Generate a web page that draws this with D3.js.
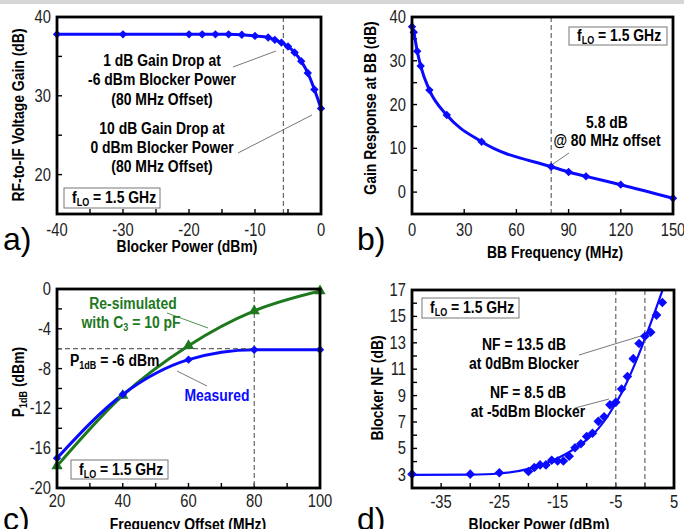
<!DOCTYPE html>
<head>
<meta charset="utf-8">
<script src="https://d3js.org/d3.v7.min.js"></script>
<style>
  body { margin: 0; background: #fff; }
  text { font-family: "Liberation Sans", Arial, sans-serif; }
</style>
</head>
<body>
<div id="vis"></div>
<script>
// a) RF-to-IF gain vs blocker power
const aPower = [-40, -30, -20, -18, -16, -14, -12, -10, -8, -7, -6, -5, -4, -3, -2, -1, 0];
const aGain  = [37.8, 37.8, 37.8, 37.8, 37.8, 37.8, 37.75, 37.6, 37.4, 37.1, 36.75, 36.25, 35.5, 34.4, 32.9, 30.8, 28.4];

// b) gain response at baseband
const bFreq = [0, 1, 3, 5, 10, 20, 40, 80, 90, 100, 120, 150];
const bGain = [37.8, 36.5, 32.2, 28.8, 23.3, 17.6, 11.5, 5.8, 4.6, 3.6, 1.7, -1.4];

// c) P1dB vs frequency offset
const cOffset   = [20, 40, 60, 80, 100];
const cMeasured = [-17.0, -10.6, -7.1, -6.1, -6.1];
const cResim    = [-17.8, -10.7, -5.7, -2.2, -0.2];

// d) blocker NF
const dPower = [-40, -30, -25, -20, -19, -18, -17, -16, -15, -14, -13, -12, -11, -10, -9, -8, -7, -6, -5, -4, -3, -2, -1, 0, 1, 2, 3];
const dNF    = [3.05, 3.05, 3.15, 3.25, 3.55, 3.75, 3.75, 4.1, 4.05, 4.05, 4.4, 5.05, 5.35, 5.9, 6.15, 7.05, 7.4, 8.3, 8.5, 9.5, 10.45, 11.8, 12.95, 13.5, 13.8, 15.1, 16.05];
const dFitPower = [-40, -30, -25, -20, -15, -10, -8, -6, -4, -2, 0, 2, 4];
const dFitNF    = [3.0, 3.02, 3.1, 3.45, 4.25, 5.65, 6.5, 7.7, 9.2, 11.1, 13.3, 15.7, 18.2];

const blue = "#0a0aff";
const green = "#1e781e";
const NARROW = 0.82;   // no Arial Narrow here, squeeze instead

const svg = d3.select("#vis").append("svg")
  .attr("width", 684).attr("height", 529);

svg.append("rect").attr("width", 684).attr("height", 4).attr("fill", "#d6d6d6");

// narrow-looking text
function T(g, x, y, size, anchor, bold, fill, rot) {
  return g.append("text")
    .attr("transform", `translate(${x},${y})${rot ? " rotate(-90)" : ""} scale(${NARROW},1)`)
    .attr("text-anchor", anchor || "start")
    .attr("font-size", size)
    .attr("font-weight", bold ? "bold" : "normal")
    .attr("fill", fill || "#000");
}

function parts(t, ps) {
  ps.forEach(p => {
    t.append("tspan").attr("font-size", p.sub ? 11 : null).attr("dy", p.dy || 0).text(p.t);
  });
  return t;
}

function panel(o) {
  const x = d3.scaleLinear().domain(o.xd).range([o.x0, o.x1]);
  const y = d3.scaleLinear().domain(o.yd).range([o.y1, o.y0]);
  const g = svg.append("g");
  const clipId = "clip" + o.name;
  g.append("clipPath").attr("id", clipId).append("rect")
    .attr("x", o.x0).attr("y", o.y0).attr("width", o.x1 - o.x0).attr("height", o.y1 - o.y0);

  // inward ticks
  g.selectAll(".xt").data(o.xTicks).enter().append("line")
    .attr("x1", d => x(d)).attr("x2", d => x(d))
    .attr("y1", o.y1).attr("y2", o.y1 - 5)
    .attr("stroke", "#000").attr("stroke-width", 1.4);
  g.selectAll(".yt").data(o.yTicks).enter().append("line")
    .attr("x1", o.x0).attr("x2", o.x0 + 5)
    .attr("y1", d => y(d)).attr("y2", d => y(d))
    .attr("stroke", "#000").attr("stroke-width", 1.4);

  o.xLabels.forEach(d => T(g, x(d), o.y1 + o.xLabOff, 18, "middle", false, "#222").text(d));
  o.yLabels.forEach(d => T(g, o.x0 - 6, y(d) + 6, 18, "end", false, "#222").text(d));

  T(g, o.xTitle[0], o.xTitle[1], 17, "middle", true).text(o.xTitleText);
  parts(T(g, o.yTitle[0], o.yTitle[1], 17, "middle", true, "#000", true), o.yTitleParts);

  g.append("text").attr("x", o.letter[0]).attr("y", o.letter[1])
    .attr("font-size", 32).text(o.name + ")");

  const plot = g.append("g").attr("clip-path", `url(#${clipId})`);
  return { x, y, g, plot };
}

function flo(g, bx, by, bw, bh) {
  g.append("rect").attr("x", bx).attr("y", by).attr("width", bw).attr("height", bh)
    .attr("fill", "#fff").attr("stroke", "#777").attr("stroke-width", 1);
  parts(T(g, bx + 8, by + bh / 2 + 5, 17, "start", true),
    [{ t: "f" }, { t: "LO", sub: true, dy: 3 }, { t: " = 1.5 GHz", dy: -3 }]);
}

function multiline(g, cx, ys, lines, color) {
  lines.forEach((l, i) => T(g, cx, ys[i], 17, "middle", true, color).text(l));
}

function leader(g, pts, color) {
  g.append("line").attr("x1", pts[0]).attr("y1", pts[1]).attr("x2", pts[2]).attr("y2", pts[3])
    .attr("stroke", color || "#555").attr("stroke-width", 0.8);
}

const diamond = s => `M0,${-s}L${s},0L0,${s}L${-s},0Z`;

function frame(p, o) {
  p.g.append("rect").attr("x", o.x0).attr("y", o.y0)
    .attr("width", o.x1 - o.x0).attr("height", o.y1 - o.y0)
    .attr("fill", "none").attr("stroke", "#000").attr("stroke-width", 2.8);
}

function vdash(p, o, xv) {
  p.g.append("line").attr("x1", p.x(xv)).attr("x2", p.x(xv))
    .attr("y1", o.y0).attr("y2", o.y1)
    .attr("stroke", "#666").attr("stroke-width", 1.2).attr("stroke-dasharray", "5,3");
}

// ---------- a ----------
const oa = {
  name: "a", x0: 57, x1: 321, y0: 17, y1: 214, xd: [-40, 0], yd: [15, 40],
  xTicks: d3.range(-40, 1, 5), yTicks: d3.range(15, 41, 5),
  xLabels: [-40, -30, -20, -10, 0], yLabels: [40, 30, 20], xLabOff: 22,
  xTitle: [187, 252], xTitleText: "Blocker Power (dBm)",
  yTitle: [24, 115], yTitleParts: [{ t: "RF-to-IF Voltage Gain (dB)" }],
  letter: [3, 250]
};
const pa = panel(oa);
vdash(pa, oa, -5.7);
multiline(pa.g, 162, [66, 85, 105], ["1 dB Gain Drop at", "-6 dBm Blocker Power", "(80 MHz Offset)"]);
multiline(pa.g, 162, [134, 153, 172], ["10 dB Gain Drop at", "0 dBm Blocker Power", "(80 MHz Offset)"]);
leader(pa.g, [233, 67, 276, 51]);
leader(pa.g, [238, 153, 312, 115]);
pa.plot.append("path")
  .attr("d", d3.line().x(d => pa.x(d[0])).y(d => pa.y(d[1])).curve(d3.curveMonotoneX)(aPower.map((v, i) => [v, aGain[i]])))
  .attr("fill", "none").attr("stroke", blue).attr("stroke-width", 3);
pa.g.selectAll(".ma").data(aPower).enter().append("path")
  .attr("transform", (d, i) => `translate(${pa.x(d)},${pa.y(aGain[i])})`)
  .attr("d", diamond(4.2)).attr("fill", blue);
flo(pa.g, 64, 188, 96, 20);
frame(pa, oa);

// ---------- b ----------
const ob = {
  name: "b", x0: 412, x1: 673, y0: 17, y1: 214, xd: [0, 150], yd: [-5, 40],
  xTicks: d3.range(0, 151, 30), yTicks: d3.range(-5, 41, 5),
  xLabels: [0, 30, 60, 90, 120, 150], yLabels: [40, 30, 20, 10, 0], xLabOff: 22,
  xTitle: [555, 258], xTitleText: "BB Frequency (MHz)",
  yTitle: [376, 108], yTitleParts: [{ t: "Gain Response at BB (dB)" }],
  letter: [357, 250]
};
const pb = panel(ob);
vdash(pb, ob, 80);
multiline(pb.g, 607, [128, 146], ["5.8 dB", "@ 80 MHz offset"]);
leader(pb.g, [553, 164, 569, 153]);
pb.plot.append("path")
  .attr("d", d3.line().x(d => pb.x(d[0])).y(d => pb.y(d[1])).curve(d3.curveMonotoneX)(bFreq.map((v, i) => [v, bGain[i]])))
  .attr("fill", "none").attr("stroke", blue).attr("stroke-width", 3);
pb.g.selectAll(".mb").data(bFreq).enter().append("path")
  .attr("transform", (d, i) => `translate(${pb.x(d)},${pb.y(bGain[i])})`)
  .attr("d", diamond(4.2)).attr("fill", blue);
flo(pb.g, 569, 27, 98, 18);
frame(pb, ob);

// ---------- c ----------
const oc = {
  name: "c", x0: 57, x1: 320, y0: 289, y1: 488, xd: [20, 100], yd: [-20, 0],
  xTicks: d3.range(20, 101, 10), yTicks: d3.range(-20, 1, 2),
  xLabels: [20, 40, 60, 80, 100], yLabels: [0, -4, -8, -12, -16, -20], xLabOff: 19,
  xTitle: [188, 530], xTitleText: "Frequency Offset (MHz)",
  yTitle: [24, 382], yTitleParts: [{ t: "P" }, { t: "1dB", sub: true, dy: 3 }, { t: " (dBm)", dy: -3 }],
  letter: [3, 530]
};
const pc = panel(oc);
vdash(pc, oc, 80);
pc.g.append("line").attr("x1", oc.x0).attr("x2", pc.x(80)).attr("y1", pc.y(-6)).attr("y2", pc.y(-6))
  .attr("stroke", "#666").attr("stroke-width", 1.2).attr("stroke-dasharray", "5,3");
multiline(pc.g, 133, [309], ["Re-simulated"], green);
parts(T(pc.g, 131, 328, 17, "middle", true, green),
  [{ t: "with C" }, { t: "3", sub: true, dy: 3 }, { t: " = 10 pF", dy: -3 }]);
leader(pc.g, [167, 313, 208, 328], green);
parts(T(pc.g, 70, 366, 17, "start", true),
  [{ t: "P" }, { t: "1dB", sub: true, dy: 3 }, { t: " = -6 dBm", dy: -3 }]);
multiline(pc.g, 217, [401], ["Measured"], blue);
leader(pc.g, [177, 371, 207, 386]);
const lc = d3.line().x(d => pc.x(d[0])).y(d => pc.y(d[1])).curve(d3.curveMonotoneX);
pc.plot.append("path").attr("d", lc(cOffset.map((v, i) => [v, cResim[i]])))
  .attr("fill", "none").attr("stroke", green).attr("stroke-width", 3);
pc.plot.append("path").attr("d", lc(cOffset.map((v, i) => [v, cMeasured[i]])))
  .attr("fill", "none").attr("stroke", blue).attr("stroke-width", 3);
pc.g.selectAll(".mcg").data(cOffset).enter().append("path")
  .attr("transform", (d, i) => `translate(${pc.x(d)},${pc.y(cResim[i])})`)
  .attr("d", d3.symbol(d3.symbolTriangle, 55)()).attr("fill", green);
pc.g.selectAll(".mcb").data(cOffset).enter().append("path")
  .attr("transform", (d, i) => `translate(${pc.x(d)},${pc.y(cMeasured[i])})`)
  .attr("d", diamond(4.2)).attr("fill", blue);
flo(pc.g, 71, 460, 97, 19);
frame(pc, oc);

// ---------- d ----------
const od = {
  name: "d", x0: 412, x1: 674, y0: 290, y1: 488, xd: [-40, 5], yd: [2, 17],
  xTicks: d3.range(-40, 6, 5), yTicks: d3.range(2, 18, 1),
  xLabels: [-35, -25, -15, -5, 5], yLabels: [17, 15, 13, 11, 9, 7, 5, 3], xLabOff: 20,
  xTitle: [539, 530], xTitleText: "Blocker Power (dBm)",
  yTitle: [383, 388], yTitleParts: [{ t: "Blocker NF (dB)" }],
  letter: [357, 530]
};
const pd = panel(od);
vdash(pd, od, -5);
vdash(pd, od, 0);
multiline(pd.g, 524, [350, 369], ["NF = 13.5 dB", "at 0dBm Blocker"]);
multiline(pd.g, 528, [398, 417], ["NF = 8.5 dB", "at -5dBm Blocker"]);
leader(pd.g, [579, 355, 644, 335]);
leader(pd.g, [575, 408, 609, 399]);
pd.plot.append("path")
  .attr("d", d3.line().x(d => pd.x(d[0])).y(d => pd.y(d[1])).curve(d3.curveMonotoneX)(dFitPower.map((v, i) => [v, dFitNF[i]])))
  .attr("fill", "none").attr("stroke", blue).attr("stroke-width", 2.2);
pd.g.selectAll(".md").data(dPower).enter().append("path")
  .attr("transform", (d, i) => `translate(${pd.x(d)},${pd.y(dNF[i])})`)
  .attr("d", diamond(4.8)).attr("fill", blue);
flo(pd.g, 422, 298, 97, 20);
frame(pd, od);
</script>
</body>
